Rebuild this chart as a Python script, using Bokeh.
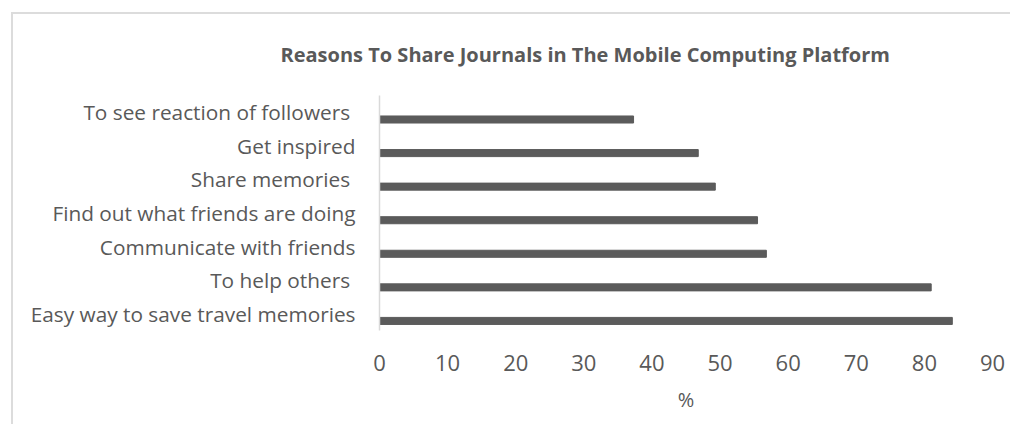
from bokeh.plotting import figure
from bokeh.models import ColumnDataSource, FactorRange, Range1d, Title
from bokeh.transform import dodge
from bokeh.layouts import column
from bokeh.embed import file_html
from bokeh.resources import INLINE

title_text = "Reasons To Share Journals in The Mobile Computing Platform"
categories = [
    "Easy way to save travel memories",
    "To help others ",
    "Communicate with friends",
    "Find out what friends are doing",
    "Share memories ",
    "Get inspired",
    "To see reaction of followers ",
]
values = [84.1, 81.0, 56.8, 55.5, 49.3, 46.8, 37.3]
x_ticks = [0, 10, 20, 30, 40, 50, 60, 70, 80, 90]
x_label = "%"

TEXT = "#595959"
FONT = "Open Sans"

src = ColumnDataSource(dict(cat=categories, val=values))

p = figure(
    y_range=FactorRange(*categories, range_padding=0),
    x_range=Range1d(0, 90),
    width=997, height=410,
    min_border_left=366, min_border_right=18,
    min_border_top=81, min_border_bottom=94,
    output_backend="svg", toolbar_location=None,
)

p.hbar(y=dodge("cat", -0.215, range=p.y_range), right="val", height=0.21,
       left=0, color="#5b5b5b", source=src)

t = Title(text=title_text, align="left", offset=-99, standoff=51,
          vertical_align="top",
          text_font=FONT, text_font_size="20px", text_font_style="bold",
          text_color=TEXT)
p.add_layout(t, "above")

p.xgrid.visible = False
p.ygrid.visible = False
p.outline_line_color = None

xa = p.xaxis[0]
xa.ticker = x_ticks
xa.axis_line_color = None
xa.major_tick_line_color = None
xa.minor_tick_line_color = None
xa.major_label_text_font = FONT
xa.major_label_text_font_size = "22px"
xa.major_label_text_color = TEXT
xa.major_label_standoff = 18
xa.axis_label = x_label
xa.axis_label_text_font = FONT
xa.axis_label_text_font_size = "20px"
xa.axis_label_text_font_style = "normal"
xa.axis_label_text_color = TEXT
xa.axis_label_standoff = 12

ya = p.yaxis[0]
ya.axis_line_color = "#d9d9d9"
ya.axis_line_width = 1.5
ya.major_tick_line_color = None
ya.minor_tick_line_color = None
ya.major_label_text_font = FONT
ya.major_label_text_font_size = "20.8px"
ya.major_label_text_color = TEXT
ya.major_label_standoff = 18

layout = column(p, margin=(12, 0, 0, 11),
                styles={"border-top": "2px solid #dcdcdc",
                        "border-left": "2px solid #dcdcdc"})

open("out.html", "w").write(file_html(layout, INLINE))
